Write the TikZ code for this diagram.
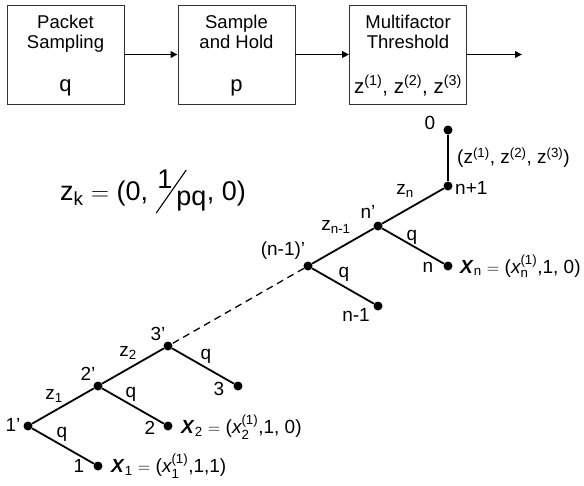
\documentclass[tikz,border=0pt]{standalone}
\usepackage{fontspec}
\setmainfont{Liberation Sans}
\usepackage{amsmath}
\usetikzlibrary{arrows.meta}
\newcommand{\bX}[1]{\textbf{\textit{X}}\textsubscript{#1}}
\newcommand{\xsup}[1]{$\textit{x}_{\text{#1}}^{\text{(1)}}$}
\begin{document}
\begin{tikzpicture}[x=1pt,y=-1pt,
  box/.style={draw=black!80,line width=0.9pt,minimum width=117pt,minimum height=99pt,inner sep=0pt},
  flow/.style={line width=1.8pt,-{Triangle[length=7pt,width=6.5pt]}},
  tedge/.style={line width=1.8pt},
  dashedge/.style={line width=1.3pt,dash pattern=on 7pt off 5pt},
  dot/.style={circle,fill=black,inner sep=0pt,minimum size=9pt},
  lab/.style={font=\fontsize{19}{21}\selectfont,inner sep=0pt},
  ttl/.style={font=\fontsize{18.5}{20}\selectfont,inner sep=0pt,anchor=base},
  big/.style={font=\fontsize{22}{24}\selectfont,inner sep=0pt,anchor=base},
  fml/.style={font=\fontsize{27}{29}\selectfont,inner sep=0pt}]
\useasboundingbox (0,0) rectangle (584,485);
% blocks
\node[box] (b1) at (65.5,54.5) {};
\node[box] (b2) at (236.5,54.5) {};
\node[box] (b3) at (408,54.5) {};
\coordinate (out) at (522,54.5);
\draw[flow] (b1) -- (b2);
\draw[flow] (b2) -- (b3);
\draw[flow] (b3) -- (out);
\node[ttl] (t1a) at (65.5,28.5) {Packet};
\node[ttl] (t1b) at (65.5,48.5) {Sampling};
\node[big] (p1) at (65.5,91) {q};
\node[ttl] (t2a) at (236.5,28.5) {Sample};
\node[ttl] (t2b) at (236.5,48.5) {and Hold};
\node[big] (p2) at (236.5,91) {p};
\node[ttl] (t3a) at (408,28.5) {Multifactor};
\node[ttl] (t3b) at (408,48.5) {Threshold};
\node[big,font=\fontsize{20.5}{24}\selectfont] (p3) at (408,93) {z\textsuperscript{(1)}, z\textsuperscript{(2)}, z\textsuperscript{(3)}};
% formula
\node[fml,anchor=base west] (zk) at (60,200) {z\textsubscript{k} $=$ (0,};
\coordinate (s1) at ([shift={(8,13)}]zk.base east);
\coordinate (s2) at ([shift={(38,-30)}]zk.base east);
\draw[line width=1.1pt] (s1) -- (s2);
\node[fml,anchor=base west] (one) at ([shift={(9,-12)}]zk.base east) {1};
\node[fml,anchor=base west] (pq) at ([shift={(28,5)}]zk.base east) {pq};
\node[fml,anchor=base west] (rest) at ([shift={(0,-5)}]pq.base east) {, 0)};
% tree nodes
\node[dot] (v0) at (448,130) {};
\node[dot] (vn1) at (448,186) {};
\node[dot] (vnp) at (378,226) {};
\node[dot] (vn) at (448,266) {};
\node[dot] (vmp) at (308,266) {};
\node[dot] (vm) at (378,306) {};
\node[dot] (v3p) at (168,346) {};
\node[dot] (v3) at (238,386) {};
\node[dot] (v2p) at (98,386) {};
\node[dot] (v2) at (168,426) {};
\node[dot] (v1p) at (28,426) {};
\node[dot] (v1) at (98,466) {};
% tree edges
\draw[tedge] (v0) -- (vn1);
\draw[tedge] (vn1) -- (vnp);
\draw[tedge] (vnp) -- (vn);
\draw[tedge] (vnp) -- (vmp);
\draw[tedge] (vmp) -- (vm);
\draw[dashedge] (vmp) -- (v3p);
\draw[tedge] (v3p) -- (v3);
\draw[tedge] (v3p) -- (v2p);
\draw[tedge] (v2p) -- (v2);
\draw[tedge] (v2p) -- (v1p);
\draw[tedge] (v1p) -- (v1);
% tree labels
\node[lab] (l0) at (430,123) {0};
\node[lab,anchor=west] (lz) at (457,158) {(z\textsuperscript{(1)}, z\textsuperscript{(2)}, z\textsuperscript{(3)})};
\node[lab,anchor=west] (ln1) at (455,188) {n+1};
\node[lab] (lzn) at (405,191) {z\textsubscript{n}};
\node[lab] (lnp) at (368,212) {n'};
\node[lab] (lznm) at (336,227) {z\textsubscript{n-1}};
\node[lab] (lq1) at (412,237) {q};
\node[lab] (ln) at (428,267) {n};
\node[lab,anchor=west] (lXn) at (460,266) {\bX{n} $=$ (\xsup{n},1, 0)};
\node[lab] (lmp) at (283,251) {(n-1)'};
\node[lab] (lq2) at (344,274) {q};
\node[lab] (lm) at (356,315) {n-1};
\node[lab] (l3p) at (158,334) {3'};
\node[lab] (lz2) at (128,353) {z\textsubscript{2}};
\node[lab] (lq3) at (206,356) {q};
\node[lab] (l3) at (219,389) {3};
\node[lab] (l2p) at (88,374) {2'};
\node[lab] (lz1) at (54,396) {z\textsubscript{1}};
\node[lab] (lq4) at (131,394) {q};
\node[lab] (l2) at (150,428) {2};
\node[lab,anchor=west] (lX2) at (181,427) {\bX{2} $=$ (\xsup{2},1, 0)};
\node[lab] (l1p) at (13,425) {1'};
\node[lab] (lq5) at (62,434) {q};
\node[lab] (l1) at (79,466) {1};
\node[lab,anchor=west] (lX1) at (111,466) {\bX{1} $=$ (\xsup{1},1,1)};
\end{tikzpicture}
\end{document}
